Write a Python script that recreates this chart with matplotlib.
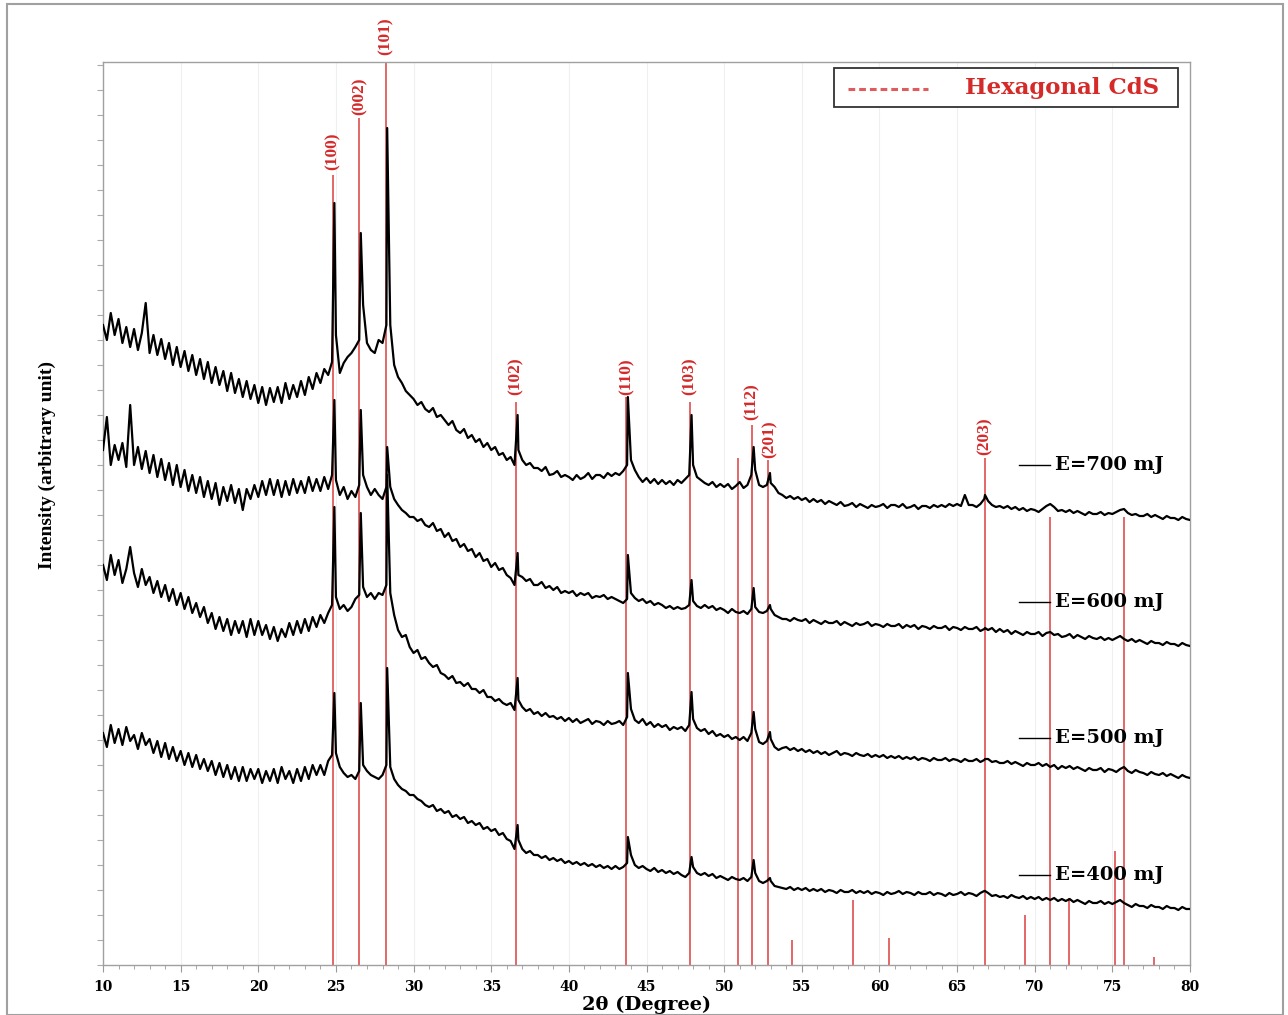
import numpy as np
import matplotlib
matplotlib.use("Agg")
import matplotlib.pyplot as plt
from matplotlib.patches import Rectangle
from matplotlib.ticker import MultipleLocator

# ---------------- data (arbitrary intensity units) ----------------
two_theta_grid = np.arange(10.0, 80.001, 0.25)

# stacked XRD patterns sampled every 0.25 degree (rows = one degree, 4 samples)
I_700 = [
    640, 625, 652, 630,  646, 622, 638, 618,  636, 615, 632, 662,  612, 630, 610, 626,
    606, 622, 600, 618,  598, 614, 594, 610,  590, 606, 586, 603,  582, 598, 580, 594,
    574, 592, 572, 586,  568, 584, 566, 580,  562, 578, 560, 577,  563, 578, 562, 582,
    566, 580, 568, 584,  570, 588, 576, 592,  582, 596, 590, 603,  630, 592, 602, 608,
    612, 618, 625, 660,  622, 615, 612, 625,  622, 640, 640, 600,  588, 582, 574, 570,
    566, 560, 563, 556,  553, 557, 548, 550,  545, 540, 544, 535,  532, 536, 527, 530,
    523, 526, 518, 522,  515, 518, 510, 512,  505, 508, 500, 515,  505, 500, 502, 497,
    497, 494, 498, 490,  491, 494, 488, 490,  488, 485, 490, 486,  488, 492, 486, 490,
    490, 487, 492, 489,  492, 490, 494, 500,  505, 495, 488, 483,  487, 482, 486, 481,
    485, 481, 484, 480,  485, 482, 486, 490,  500, 488, 485, 482,  480, 483, 478, 481,
    478, 481, 476, 479,  483, 477, 480, 490,  495, 480, 478, 480,  482, 478, 472, 470,
    467, 469, 466, 468,  465, 467, 463, 466,  463, 465, 461, 464,  462, 460, 463, 459,
    460, 462, 458, 461,  459, 457, 460, 458,  459, 461, 457, 460,  460, 458, 461, 457,
    458, 460, 456, 459,  459, 457, 460, 458,  460, 458, 461, 459,  461, 459, 470, 460,
    460, 458, 461, 466,  464, 460, 458, 459,  457, 459, 456, 458,  455, 457, 454, 456,
    455, 453, 456, 459,  461, 458, 454, 455,  453, 455, 452, 454,  452, 450, 453, 451,
    451, 453, 450, 452,  451, 453, 455, 456,  452, 450, 451, 449,  449, 451, 448, 450,
    448, 446, 449, 447,  447, 445, 448, 446,  445,
]
I_600 = [
    515, 548, 500, 520,  505, 522, 498, 560,  500, 518, 496, 514,  492, 510, 488, 506,
    485, 502, 480, 500,  478, 495, 474, 490,  472, 488, 468, 484,  466, 482, 460, 478,
    464, 480, 462, 476,  455, 476, 466, 480,  468, 484, 470, 486,  470, 485, 468, 484,
    470, 486, 472, 484,  472, 488, 474, 486,  474, 488, 476, 490,  485, 470, 478, 466,
    474, 468, 480, 490,  478, 470, 476, 470,  466, 478, 478, 466,  460, 455, 452, 448,
    448, 444, 446, 440,  438, 442, 434, 436,  428, 432, 424, 426,  418, 421, 414, 416,
    408, 412, 404, 406,  398, 402, 395, 397,  390, 387, 380, 390,  388, 384, 386, 380,
    380, 383, 377, 379,  375, 378, 372, 374,  372, 374, 369, 372,  370, 372, 367, 369,
    368, 370, 366, 368,  366, 364, 362, 366,  372, 367, 364, 366,  362, 364, 360, 362,
    360, 357, 359, 356,  358, 356, 357, 360,  364, 359, 357, 360,  357, 359, 355, 357,
    355, 352, 356, 353,  352, 354, 351, 356,  358, 353, 352, 354,  356, 350, 348, 346,
    346, 344, 347, 345,  344, 346, 342, 345,  343, 341, 344, 342,  342, 344, 340, 343,
    341, 339, 342, 340,  341, 343, 339, 341,  340, 338, 341, 339,  339, 341, 337, 340,
    338, 340, 336, 339,  338, 336, 339, 337,  337, 339, 335, 338,  337, 335, 338, 336,
    336, 338, 334, 336,  335, 337, 333, 336,  333, 335, 331, 334,  332, 330, 333, 331,
    331, 333, 329, 332,  333, 330, 331, 328,  329, 331, 327, 330,  328, 326, 329, 327,
    326, 328, 325, 327,  325, 327, 329, 326,  324, 326, 323, 325,  323, 321, 324, 322,
    322, 320, 323, 321,  321, 319, 322, 320,  319,
]
I_500 = [
    400, 385, 410, 390,  405, 382, 396, 418,  392, 378, 396, 380,  388, 372, 384, 368,
    380, 364, 376, 360,  372, 356, 368, 352,  362, 348, 358, 342,  352, 336, 348, 334,
    346, 330, 344, 332,  344, 328, 346, 330,  344, 330, 340, 326,  338, 324, 336, 328,
    342, 330, 344, 332,  346, 334, 348, 338,  350, 342, 352, 360,  368, 356, 360, 354,
    358, 366, 370, 378,  368, 372, 366, 372,  370, 380, 372, 350,  335, 328, 330, 318,
    312, 315, 306, 308,  302, 298, 300, 292,  290, 286, 289, 282,  283, 279, 282, 276,
    276, 272, 275, 268,  268, 264, 266, 262,  260, 262, 255, 265,  258, 254, 256, 251,
    253, 249, 252, 248,  249, 246, 248, 244,  247, 243, 246, 242,  244, 246, 241, 244,
    243, 240, 244, 241,  242, 244, 240, 248,  256, 245, 242, 246,  240, 243, 238, 241,
    238, 240, 235, 238,  236, 238, 234, 240,  246, 237, 234, 236,  231, 234, 229, 231,
    228, 230, 226, 228,  225, 228, 224, 232,  236, 223, 221, 224,  226, 218, 215, 217,
    218, 215, 217, 214,  216, 213, 215, 212,  214, 211, 213, 210,  212, 214, 210, 212,
    211, 209, 212, 210,  209, 211, 208, 210,  208, 210, 207, 209,  207, 209, 206, 208,
    206, 208, 205, 207,  206, 204, 207, 205,  205, 207, 204, 206,  205, 203, 206, 204,
    204, 206, 203, 205,  206, 203, 204, 202,  202, 204, 201, 203,  201, 199, 202, 200,
    200, 202, 199, 201,  198, 200, 196, 199,  197, 199, 196, 198,  196, 194, 197, 195,
    195, 197, 193, 196,  195, 193, 196, 198,  194, 192, 195, 193,  192, 190, 193, 191,
    190, 192, 189, 191,  189, 187, 190, 188,  187,
]
I_400 = [
    232, 218, 240, 222,  236, 220, 238, 224,  230, 216, 232, 220,  226, 212, 224, 208,
    222, 206, 218, 204,  214, 200, 212, 198,  210, 196, 206, 194,  204, 190, 202, 188,
    200, 186, 198, 184,  198, 184, 196, 186,  196, 182, 194, 184,  196, 182, 198, 186,
    194, 182, 196, 184,  198, 186, 200, 190,  200, 190, 204, 210,  212, 198, 192, 188,
    190, 186, 194, 200,  194, 190, 188, 186,  190, 200, 198, 186,  180, 176, 174, 170,
    170, 166, 164, 160,  158, 160, 154, 156,  152, 154, 148, 150,  146, 148, 142, 144,
    140, 142, 136, 138,  134, 136, 130, 132,  126, 124, 116, 125,  116, 112, 114, 110,
    110, 107, 109, 105,  107, 104, 106, 102,  104, 101, 103, 100,  102, 99, 101, 98,
    100, 97, 99, 96,     99, 96, 98, 102,     110, 100, 97, 99,    96, 94, 97, 93,
    95, 92, 94, 91,      93, 90, 88, 92,      98, 92, 90, 92,      89, 91, 87, 89,
    87, 85, 88, 86,      85, 87, 84, 88,      92, 84, 82, 84,      84, 79, 78, 77,
    76, 78, 75, 77,      75, 77, 74, 76,      74, 76, 73, 75,      74, 72, 75, 73,
    73, 75, 72, 74,      72, 74, 71, 73,      72, 70, 73, 71,      72, 74, 71, 73,
    72, 70, 73, 71,      71, 73, 70, 72,      71, 69, 72, 70,      71, 73, 70, 72,
    71, 69, 72, 74,      72, 69, 70, 68,      69, 67, 70, 68,      67, 69, 66, 68,
    66, 68, 65, 67,      65, 67, 64, 66,      64, 66, 63, 65,      63, 61, 64, 62,
    62, 64, 61, 63,      61, 63, 65, 62,      60, 58, 61, 59,      59, 57, 60, 58,
    58, 56, 59, 57,      57, 55, 58, 56,      56,
]

# diffraction peak maxima of each pattern
peak_pos = [24.9, 26.6, 28.3, 36.7, 43.8, 47.9, 51.9, 52.95, 66.8]
peak_700 = [762, 732, 837, 550, 568, 550, 518, 492, 470]
peak_600 = [565, 555, 518, 412, 410, 385, 377, 360, 337]
peak_500 = [458, 452, 490, 287, 292, 273, 253, 233, 206]
peak_400 = [272, 262, 297, 140, 128, 108, 105, 87, 74]

series_names = ["E=700 mJ", "E=600 mJ", "E=500 mJ", "E=400 mJ"]
label_levels = [500, 363, 227, 90]

# Hexagonal CdS reference pattern (positions and stick heights)
ref_pos = [24.8, 26.5, 28.2, 36.6, 43.7, 47.8, 50.9, 51.8, 52.8, 54.4, 58.3, 60.6,
           66.8, 69.4, 71.0, 72.2, 75.2, 75.75, 77.7]
ref_height = [790, 847, 903, 563, 568, 563, 507, 540, 505, 25, 65, 27,
              507, 50, 448, 67, 114, 448, 8]
hkl_labels = ["(100)", "(002)", "(101)", "(102)", "(110)", "(103)", "(112)", "(201)", "(203)"]
hkl_pos = [24.8, 26.5, 28.2, 36.6, 43.7, 47.8, 51.8, 52.95, 66.8]
hkl_y = [795, 850, 910, 570, 570, 570, 545, 507, 510]

# ---------------- figure ----------------
W, H = 1288, 1015
fig = plt.figure(figsize=(W / 100, H / 100), dpi=100)
ax = fig.add_axes([103 / W, 1 - 965 / H, (1190 - 103) / W, (965 - 62) / H])

red = "#e05c5c"
serif_b = dict(family="DejaVu Serif", weight="bold")
times_b = dict(family="Liberation Serif", weight="bold")

# reference sticks
for xp, hh in zip(ref_pos, ref_height):
    ax.vlines(xp, 0, hh, color=red, lw=1.3, zorder=2, clip_on=False)

for txt, xp, yp in zip(hkl_labels, hkl_pos, hkl_y):
    ax.text(xp, yp, txt, rotation=90, ha="center", va="bottom", color="#d42a2a",
            fontsize=12.5, clip_on=False, **times_b)


def merged(values, peaks):
    xs = list(two_theta_grid) + list(peak_pos)
    ys = list(values) + list(peaks)
    order = np.argsort(xs, kind="stable")
    return np.asarray(xs)[order], np.asarray(ys)[order]


for vals, pk in [(I_700, peak_700), (I_600, peak_600), (I_500, peak_500), (I_400, peak_400)]:
    xx, yy = merged(vals, pk)
    ax.plot(xx, yy, color="black", lw=1.6, zorder=3)

# series labels
for name, lv in zip(series_names, label_levels):
    ax.plot([69.0, 71.0], [lv, lv], color="black", lw=1.0, zorder=4)
    ax.text(71.3, lv, name, ha="left", va="center", fontsize=14, color="black", **serif_b)

# legend box
ax.add_patch(Rectangle((0.6725, 0.950), 0.3165, 0.0434, transform=ax.transAxes,
                       facecolor="white", edgecolor="#333333", lw=1.3, zorder=5))
ax.plot([0.685, 0.759], [0.9705, 0.9705], transform=ax.transAxes, color=red,
        lw=2.2, ls=(0, (2.2, 1.3)), zorder=6)
ax.text(0.793, 0.9715, "Hexagonal CdS", transform=ax.transAxes, ha="left", va="center",
        color="#d42a2a", fontsize=16.5, zorder=6, **serif_b)

# axes styling
ax.set_xlim(10, 80)
ax.set_ylim(0, 903)
ax.xaxis.set_major_locator(MultipleLocator(5))
ax.xaxis.set_minor_locator(MultipleLocator(1))
ax.yaxis.set_major_locator(MultipleLocator(25))
ax.set_yticklabels([])
ax.tick_params(axis="y", which="both", direction="out", length=4, color="#aaaaaa", labelleft=False)
ax.tick_params(axis="x", which="major", direction="out", length=5, color="#999999", pad=6)
ax.tick_params(axis="x", which="minor", direction="out", length=3, color="#999999")
for lab in ax.get_xticklabels():
    lab.set_fontfamily("DejaVu Serif")
    lab.set_fontweight("bold")
    lab.set_fontsize(10)
ax.grid(axis="x", which="major", color="#f0f0f0", lw=0.8, zorder=0)
for sp in ax.spines.values():
    sp.set_color("#a0a0a0")
    sp.set_linewidth(1.0)

ax.set_xlabel("2θ (Degree)", fontsize=14, **serif_b)
ax.xaxis.set_label_coords(0.5, -0.034)
ax.set_ylabel("Intensity (arbitrary unit)", fontsize=14, **times_b)
ax.yaxis.set_label_coords(-0.043, 0.554)

# outer figure frame
fig.add_artist(Rectangle((7 / W, 0), (1283 - 7) / W, 1 - 4 / H, transform=fig.transFigure,
                         fill=False, edgecolor="#a0a0a0", lw=1.5))

fig.savefig("out.png", dpi=100)
